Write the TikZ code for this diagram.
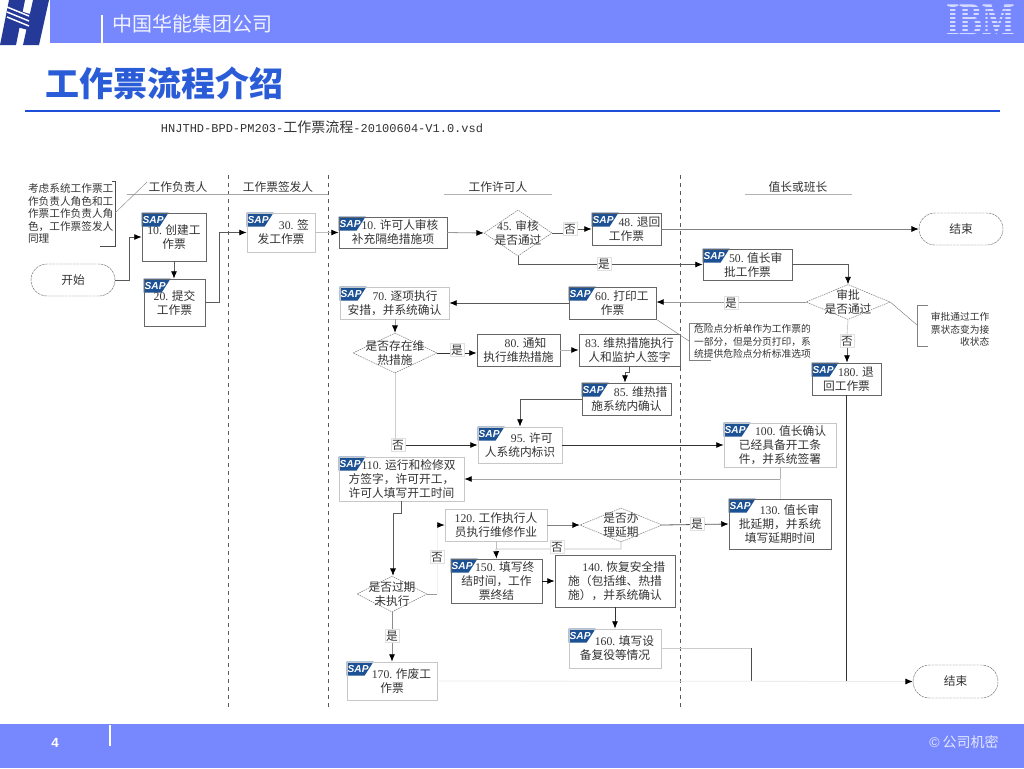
\documentclass[tikz,border=0pt]{standalone}
\usepackage{fontspec}
\usepackage{xcolor}
\setmainfont{Noto Sans CJK SC}
\newfontfamily\latinfont{Liberation Serif}
\newfontfamily\monofont{Liberation Mono}
\newfontfamily\sapfont{Liberation Sans}
\newcommand{\numt}[1]{{\latinfont #1}}
\usetikzlibrary{arrows.meta,backgrounds,shapes.geometric,shapes.misc}
\definecolor{bandblue}{HTML}{7788FF}
\definecolor{logoblue}{HTML}{253A98}
\definecolor{titleblue}{HTML}{2B5CD8}
\definecolor{rulerblue}{HTML}{1F4FD8}
\definecolor{sapblue}{HTML}{1C5194}

\begin{document}
\begin{tikzpicture}[
    x=0.75pt,y=-0.75pt,
    every node/.style={font=\fontsize{8.8pt}{10.5pt}\selectfont,align=center,text=black!80,inner sep=0pt},
    sized/.style 2 args={minimum width=#1*0.75pt,minimum height=#2*0.75pt},
    box/.style={draw=black!60,line width=0.6pt},
    lightbox/.style={draw=black!22,line width=0.6pt},
    decision/.style={
        diamond,
        draw=black!55,
        line width=0.35pt,
        dash pattern=on 1.2pt off 0.6pt,
        inner sep=-14pt
    },
    terminal/.style={
        rounded rectangle,
        draw=black!55,
        line width=0.35pt,
        dash pattern=on 2pt off 0.6pt
    },
    flag/.style={fill=white,draw=black!12,line width=0.3pt,inner sep=1pt},
    notetext/.style={font=\fontsize{7.3pt}{9.4pt}\selectfont},
    lanehead/.style={font=\fontsize{8.8pt}{10pt}\selectfont},
    saptext/.style={font=\sapfont\fontsize{7.6pt}{8pt}\selectfont\bfseries\itshape,text=white},
    arrow/.style={-{Latex[length=5.5pt,width=4.5pt,black]},draw=black!65,line width=0.6pt},
    lightarrow/.style={arrow,draw=black!25},
    link/.style={draw=black!65,line width=0.6pt},
    lane/.style={dashed,draw=black!65,line width=0.7pt}
]
\useasboundingbox (0,0) rectangle (1024,768);

% Slide header
\fill[bandblue] (50,0) rectangle (1024,43);
\fill[logoblue] (9,0) -- (25,0) -- (16,45) -- (0,45) -- cycle;
\fill[logoblue] (33,0) -- (49,0) -- (39,45) -- (23,45) -- cycle;
\fill[logoblue] (10,8) -- (30,14) -- (28,30) -- (6,24) -- cycle;
\foreach \sy in {7,12,17}
    \draw[white,line width=1.1pt] (7,\sy) -- (29,\sy+9);
\draw[white,line width=1pt] (102,15) -- (102,43);
\node[font=\fontsize{15pt}{15pt}\selectfont,text=white!90!bandblue] (company) at (192,24) {中国华能集团公司};
\node[font=\latinfont\fontsize{34pt}{34pt}\selectfont\bfseries,text=white!68!bandblue,xscale=0.76] (ibm) at (981,20) {IBM};
\foreach \sy in {7,11,...,35}
    \fill[bandblue] (944,\sy) rectangle (1018,\sy+1.6);
\node[font=\fontsize{25.5pt}{25.5pt}\selectfont\bfseries,text=titleblue] (title) at (164,83) {工作票流程介绍};
\draw[rulerblue,line width=1.5pt] (25,111) -- (1000,111);

% Slide footer
\fill[bandblue] (0,724) rectangle (1024,768);
\draw[white,line width=1pt] (110,725) -- (110,746);
\node[font=\sapfont\fontsize{10pt}{10pt}\selectfont\bfseries,text=white] (pageno) at (55,743) {4};
\node[font=\fontsize{10.5pt}{10.5pt}\selectfont,text=white!80!bandblue] (secret) at (964,742) {{\sapfont ©} 公司机密};

% File name
\node (filename) at (322,127) {\monofont\fontsize{9pt}{9pt}\selectfont HNJTHD-BPD-PM203-{\rmfamily\fontsize{10.5pt}{10.5pt}\selectfont 工作票流程}-20100604-V1.0.vsd};

% Lanes
\foreach \lx in {228,328,680}
    \draw[lane] (\lx,175) -- (\lx,710);
\draw[black!35,line width=0.5pt] (127,194) -- (328,194);
\draw[black!30,line width=0.5pt] (444,194) -- (552,194);
\draw[black!30,line width=0.5pt] (745,194) -- (852,194);
\node[lanehead] (lane1) at (178,187) {工作负责人};
\node[lanehead] (lane2) at (278,187) {工作票签发人};
\node[lanehead] (lane3) at (498,187) {工作许可人};
\node[lanehead] (lane4) at (798,187) {值长或班长};

% Start and end
\node[terminal,sized={84}{32}] (start) at (73,280) {开始};
\node[terminal,sized={84}{32}] (endtop) at (961,229) {结束};
\node[terminal,sized={85}{33}] (endbottom) at (955.5,681.5) {结束};

% Steps
\node[box,sized={64}{48}] (b10) at (174,237) {\numt{10.} 创建工\\作票};
\node[box,sized={61}{47}] (b20) at (174.5,302.5) {\numt{20.} 提交\\工作票};
\node[lightbox,sized={68}{39}] (b30) at (281,232.5) {\hspace*{2.2em}\numt{30.} 签\\发工作票};
\node[box,sized={108}{31}] (b40) at (393,232.5) {\hspace*{1.2em}\numt{10.} 许可人审核\\补充隔绝措施项};
\node[box,sized={69}{32}] (b48) at (626.5,229) {\hspace*{2.2em}\numt{48.} 退回\\工作票};
\node[box,sized={89}{31}] (b50) at (747.5,264.5) {\hspace*{1.4em}\numt{50.} 值长审\\批工作票};
\node[box,sized={87}{32}] (b60) at (612.5,303) {\hspace*{1.6em}\numt{60.} 打印工\\作票};
\node[lightbox,sized={109}{32}] (b70) at (394.5,303) {\hspace*{1.8em}\numt{70.} 逐项执行\\安措，并系统确认};
\node[box,sized={83}{32}] (b80) at (518.5,350) {\hspace*{1.2em}\numt{80.} 通知\\执行维热措施};
\node[box,sized={101}{32}] (b83) at (629.5,350) {\numt{83.} 维热措施执行\\人和监护人签字};
\node[box,sized={89}{32}] (b85) at (626.5,399) {\hspace*{2.4em}\numt{85.} 维热措\\施系统内确认};
\node[lightbox,sized={84}{36}] (b95) at (520,445) {\hspace*{2em}\numt{95.} 许可\\人系统内标识};
\node[lightbox,sized={112}{44}] (b100) at (780,445) {\hspace*{1.8em}\numt{100.} 值长确认\\已经具备开工条\\件，并系统签署};
\node[lightbox,sized={125}{44}] (b110) at (401.5,479) {\hspace*{1.2em}\numt{110.} 运行和检修双\\方签字，许可开工，\\许可人填写开工时间};
\node[lightbox,sized={102}{32}] (b120) at (496,525) {\numt{120.} 工作执行人\\员执行维修作业};
\node[box,sized={102}{50}] (b130) at (780,524) {\hspace*{1.6em}\numt{130.} 值长审\\批延期，并系统\\填写延期时间};
\node[box,sized={120}{52}] (b140) at (615,581) {\hspace*{1.5em}\numt{140.} 恢复安全措\\施（包括维、热措\\施），并系统确认};
\node[box,sized={91}{44}] (b150) at (496.5,581) {\hspace*{1.4em}\numt{150.} 填写终\\结时间，工作\\票终结};
\node[lightbox,sized={92}{39}] (b160) at (615,648.5) {\hspace*{1.6em}\numt{160.} 填写设\\备复役等情况};
\node[lightbox,sized={90}{38}] (b170) at (392,681) {\hspace*{1.6em}\numt{170.} 作废工\\作票};
\node[box,sized={69}{32}] (b180) at (846.5,379) {\hspace*{1.6em}\numt{180.} 退\\回工作票};

% Decisions
\node[decision,sized={68}{46}] (d45) at (518,233) {\numt{45.} 审核\\是否通过};
\node[decision,sized={84}{35}] (d50) at (848,302) {审批\\是否通过};
\node[decision,sized={84}{40}] (d70) at (395,353) {是否存在维\\热措施};
\node[decision,sized={82}{34}] (d120) at (621,525) {是否办\\理延期};
\node[decision,sized={70}{36}] (d150) at (392,594) {是否过期\\未执行};

% SAP marks
\begin{scope}[on background layer]
\foreach \step in {b10,b20,b30,b40,b48,b50,b60,b70,b85,b95,b100,b110,b130,b150,b160,b170,b180}{
    \fill[sapblue] (\step.north west) -- ++(27,0) -- ++(-9,14) -- ++(-18,0) -- cycle;
    \path (\step.north west) ++(11.5,7) node[saptext] (sap\step) {SAP};
}
\end{scope}

% Notes
\node[notetext,text width=84*0.75pt,align=left,font=\fontsize{8pt}{9.4pt}\selectfont] (n1) at (70,213.5) {考虑系统工作票工\\作负责人角色和工\\作票工作负责人角\\色，工作票签发人\\同理};
\coordinate (n1tip) at (147,182);
\draw[black!70,line width=0.5pt] (112,181) -- (115,181) -- (115,246) -- (100,246);
\draw[black!45,line width=0.35pt] (115,213) -- (n1tip);
\node[notetext,minimum width=125*0.75pt,minimum height=37*0.75pt] (n2) at (752.5,341.5) {危险点分析单作为工作票的\\一部分，但是分页打印，系\\统提供危险点分析标准选项};
\draw[black!50,line width=0.5pt] (711,323) -| (n2.west) |- (711,360);
\draw[black!50,line width=0.35pt] (b60.south east) -- (n2.west);
\node[notetext,align=right,text width=65*0.75pt,anchor=north west] (n3) at (924,312) {审批通过工作\\票状态变为接\\收状态};
\coordinate (n3tip) at (917,325);
\draw[black!50,line width=0.5pt] (928,305) -| (n3tip) |- (928,346);
\draw[black!50,line width=0.35pt] (d50.east) -- (n3tip);

% Relations
\draw[arrow] (start.east) -- ++(14,0) |- (b10.west);
\draw[arrow] (b10.south) -- (b10.south|-b20.north);
\draw[arrow] (b20.east) -- ++(14,0) |- (b30.west);
\draw[arrow,draw=black!25] (b30.east) -- (b40.west);
\draw[arrow,draw=black!40] (b40.east) -- (d45.west);
\coordinate (fork48) at (566,233);
\draw[arrow] (d45.east) -- (fork48) |- (b48.west);
\draw[arrow,draw=black!50] (b48.east) -- (endtop.west);
\draw[arrow] (d45.south) |- (b50.west);
\draw[arrow] (b50.east) -| (d50.north);
\draw[arrow,draw=black!40] (d50.west) -- (b60.east|-d50.west);
\draw[arrow] (b60.west) -- (b70.east);
\draw[arrow,draw=black!40] (b70.south-|d70.north) -- (d70.north);
\draw[arrow,draw=black!80] (d70.east) -- (b80.west|-d70.east);
\draw[arrow,draw=black!30] (b80.east) -- (b83.west);
\coordinate (jog83) at (629,372);
\draw[arrow] (b83.south-|jog83) -- (jog83) -- ++(-4,0) -- (b85.north-|625,0);
\draw[arrow] (b85.west) -| (b95.north);
\coordinate (turn95) at (d70.south|-b95.west);
\draw[black!20,line width=0.6pt] (d70.south) -- (turn95);
\draw[arrow,draw=black!80] (turn95) -- (b95.west);
\draw[arrow,draw=black!80] (b95.east) -- (b100.west);
\coordinate (merge100) at (b100.south|-b110.east);
\draw[link,draw=black!30] (b100.south) -- (merge100);
\draw[link,draw=black!15] (b130.north) -- (merge100);
\draw[arrow,draw=black!35] (merge100) -- (b110.east);
\coordinate (jog110) at (393,513);
\draw[arrow] (b110.south) |- (jog110) -- (d150.north-|jog110);
\coordinate (back150) at (437,594);
\draw[link,draw=black!10] (d150.east) -- (back150);
\draw[link,draw=black!40] (d150.east) -- ++(10,0);
\draw[link,draw=black!6] (back150) |- (b120.west);
\draw[arrow,draw=black!80] (b120.west)++(-8,0) -- (b120.west);
\draw[arrow,draw=black!50] (b120.east) -- (d120.west);
\draw[arrow] (d120.east) -- (b130.west);
\draw[arrow,draw=black!25] (d120.south) |- (496,549) -- (b150.north);
\draw[link,draw=black!25] (b120.south) -- (496,549);
\draw[arrow,draw=black!90] (b150.east) -- (b140.west);
\draw[arrow,draw=black!80] (b140.south) -- (b160.north);
\draw[arrow,draw=black!45] (d150.south) -- (b170.north);
\coordinate (turn160) at (751,681);
\draw[link,draw=black!20] (b160.east) -| (turn160);
\draw[link,draw=black!70] (751,648) -- (turn160);
\draw[link,draw=black!80] (b180.south) -- (b180.south|-endbottom.west);
\draw[arrow,draw=black!8] (b170.east) -- (endbottom.west);

% Branch labels
\node[flag] (no45) at (570,229) {否};
\node[flag] (yes45) at (604,264) {是};
\node[flag] (yes50) at (731,303) {是};
\node[flag] (no50) at (847,341) {否};
\draw[arrow] (no50.south) -- (no50.south|-b180.north);
\draw[link,draw=black!20] (d50.south) -- (no50.north);
\node[flag] (yes70) at (457,350) {是};
\node[flag] (no70) at (398,445) {否};
\node[flag] (no120) at (557,547) {否};
\node[flag] (yes120) at (697,524) {是};
\node[flag] (no150) at (437,557) {否};
\node[flag] (yes150) at (392,636) {是};

\end{tikzpicture}
\end{document}
